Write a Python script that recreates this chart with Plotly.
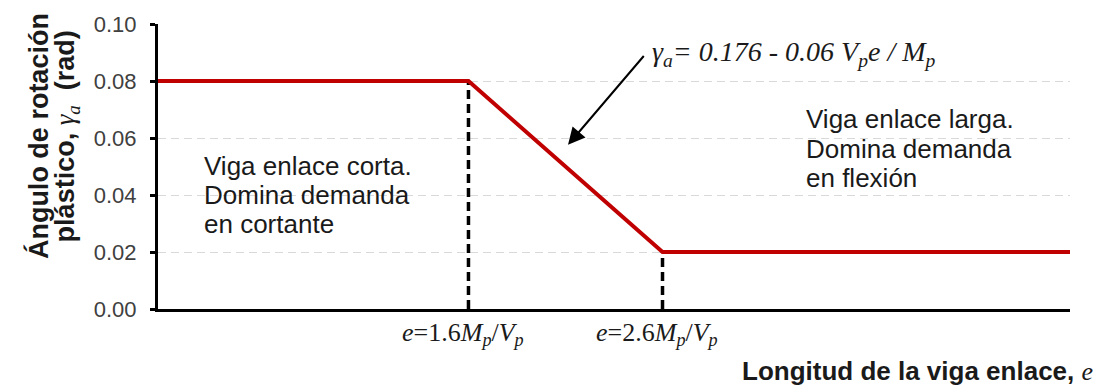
import plotly.graph_objects as go

# Link length e, in units of Mp/Vp, and plastic rotation angle (rad)
e_vals = [0.0, 1.6, 2.6, 4.7]
gamma_vals = [0.08, 0.08, 0.02, 0.02]

# Transition lengths marked on the x axis
e_marks = [1.6, 2.6]
gamma_marks = [0.08, 0.02]
mark_labels = [
    "<i>e</i>=1.6<i>M<sub>p</sub></i>/<i>V<sub>p</sub></i>",
    "<i>e</i>=2.6<i>M<sub>p</sub></i>/<i>V<sub>p</sub></i>",
]

y_ticks = [0.00, 0.02, 0.04, 0.06, 0.08, 0.10]
y_ticktext = ["0.00", "0.02", "0.04", "0.06", "0.08", "0.10"]

short_link_lines = ["Viga enlace corta.", "Domina demanda", "en cortante"]
long_link_lines = ["Viga enlace larga.", "Domina demanda", "en flexión"]

SANS = "Liberation Sans, Arial, sans-serif"
SERIF = "Liberation Serif, Times New Roman, serif"

fig = go.Figure()

# Dashed drop lines at the two transition lengths
for xm, ym in zip(e_marks, gamma_marks):
    fig.add_trace(go.Scatter(
        x=[xm, xm], y=[0, ym], mode="lines",
        line=dict(color="black", width=3.5, dash="9px,5px"),
        hoverinfo="skip", showlegend=False,
    ))

# Rotation capacity curve
fig.add_trace(go.Scatter(
    x=e_vals, y=gamma_vals, mode="lines",
    line=dict(color="#c00000", width=4),
    showlegend=False,
))

annotations = []

# Labels under the transition lengths
for xm, lab in zip(e_marks, mark_labels):
    annotations.append(dict(
        x=xm - 0.03, xref="x", y=-0.087, yref="paper",
        text=lab, showarrow=False, xanchor="center", yanchor="middle",
        font=dict(family=SERIF, size=26, color="#1a1a1a"),
    ))

# Region descriptions, one annotation per line
for i, line in enumerate(short_link_lines):
    annotations.append(dict(
        x=0.227, y=0.0503 - i * 0.0103, xref="x", yref="y",
        text=line, showarrow=False, xanchor="left", yanchor="middle",
        font=dict(family=SANS, size=26, color="#1a1a1a"),
    ))
for i, line in enumerate(long_link_lines):
    annotations.append(dict(
        x=3.33, y=0.0666 - i * 0.0103, xref="x", yref="y",
        text=line, showarrow=False, xanchor="left", yanchor="middle",
        font=dict(family=SANS, size=26, color="#1a1a1a"),
    ))

# Formula for the sloped segment with its pointer
annotations.append(dict(
    x=2.536, y=0.0895, xref="x", yref="y",
    text="<i>γ<sub>a</sub>= 0.176 - 0.06 V<sub>p</sub>e / M<sub>p</sub></i>",
    showarrow=False, xanchor="left", yanchor="middle",
    font=dict(family=SERIF, size=28, color="#1a1a1a"),
))
annotations.append(dict(
    x=2.113, y=0.0576, xref="x", yref="y",
    ax=2.51, ay=0.0893, axref="x", ayref="y",
    text="", showarrow=True, arrowhead=2, arrowsize=1.7,
    arrowwidth=2, arrowcolor="black",
))

# Axis titles
annotations.append(dict(
    x=-0.131, y=0.605, xref="paper", yref="paper", textangle=-90,
    text="<b>Ángulo de rotación</b>", showarrow=False,
    xanchor="center", yanchor="middle",
    font=dict(family=SANS, size=27, color="#1a1a1a"),
))
annotations.append(dict(
    x=-0.1, y=0.605, xref="paper", yref="paper", textangle=-90,
    text=("<b>plástico, </b><span style=\"font-family:Liberation Serif\">"
          "<i>γ<sub>a</sub></i></span><b>  (rad)</b>"),
    showarrow=False, xanchor="center", yanchor="middle",
    font=dict(family=SANS, size=27, color="#1a1a1a"),
))
annotations.append(dict(
    x=1.027, y=-0.217, xref="paper", yref="paper",
    text=("<b>Longitud de la viga enlace,</b> "
          "<span style=\"font-family:Liberation Serif\"><i>e</i></span>"),
    showarrow=False, xanchor="right", yanchor="middle",
    font=dict(family=SANS, size=26, color="#1a1a1a"),
))

fig.update_layout(
    width=1103, height=386,
    margin=dict(l=158, r=33, t=17, b=77),
    paper_bgcolor="white", plot_bgcolor="white",
    annotations=annotations,
    xaxis=dict(
        range=[0, 4.7], showgrid=False, zeroline=False,
        showticklabels=False, ticks="",
        showline=True, linecolor="black", linewidth=3,
    ),
    yaxis=dict(
        range=[0, 0.1], tickvals=y_ticks, ticktext=y_ticktext,
        showgrid=True, gridcolor="#d9d9d9", gridwidth=1, griddash="8px,5px",
        zeroline=False, showline=True, linecolor="black", linewidth=3,
        ticks="outside", ticklen=5, tickwidth=3, tickcolor="black",
        ticklabelstandoff=9,
        tickfont=dict(family=SANS, size=22, color="#404040"),
    ),
)

fig.write_html("out.html")
